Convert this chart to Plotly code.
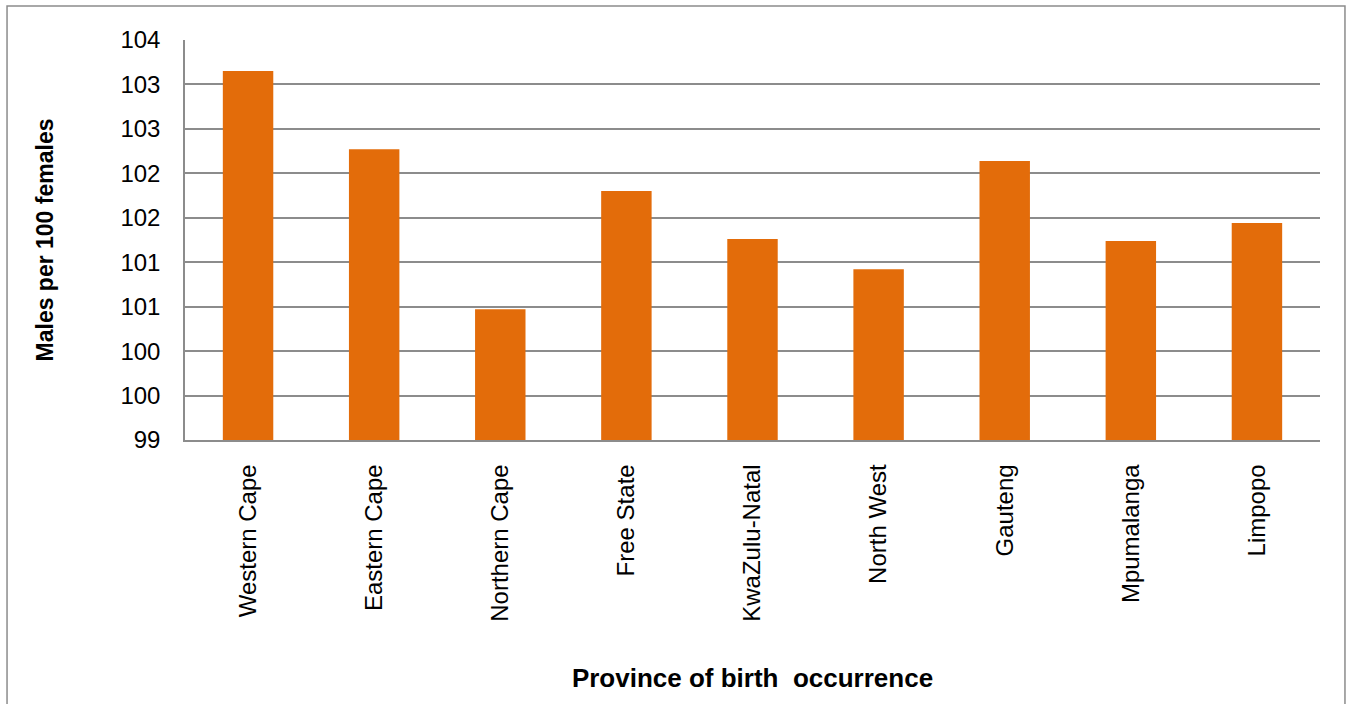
import plotly.graph_objects as go

provinces = ["Western Cape", "Eastern Cape", "Northern Cape", "Free State", "KwaZulu-Natal",
             "North West", "Gauteng", "Mpumalanga", "Limpopo"]
sex_ratio = [103.15, 102.27, 100.47, 101.80, 101.26, 100.92, 102.14, 101.24, 101.44]
y_tick_vals = [99, 99.5, 100, 100.5, 101, 101.5, 102, 102.5, 103, 103.5]
y_tick_text = ["99", "100", "100", "101", "101", "102", "102", "103", "103", "104"]

fig = go.Figure(go.Bar(x=provinces, y=sex_ratio, marker_color="#E36C0A",
                       marker_line_width=0, width=0.4))

font = "Liberation Sans, Arial, sans-serif"
fig.update_layout(
    width=1349, height=704,
    margin=dict(l=185, r=29, t=40, b=264),
    paper_bgcolor="white", plot_bgcolor="white",
    font=dict(family=font, color="black"),
    showlegend=False,
    xaxis=dict(
        tickangle=-90, tickfont=dict(size=24), showgrid=False,
        showline=True, linecolor="#8c8c8c", linewidth=1.5,
        ticks="", ticklabelstandoff=13,
        title=dict(text="<b>Province of birth  occurrence</b>", font=dict(size=26), standoff=48),
    ),
    yaxis=dict(
        range=[99, 103.5], tickvals=y_tick_vals, ticktext=y_tick_text,
        tickfont=dict(size=24), showgrid=True, gridcolor="#8c8c8c", gridwidth=1.5,
        showline=True, linecolor="#8c8c8c", linewidth=1.5, zeroline=False,
        ticks="", ticklabelstandoff=18,
        title=dict(text="<b>Males per 100 females</b>", font=dict(size=23), standoff=60),
    ),
    shapes=[dict(type="rect", xref="paper", yref="paper",
                 x0=-0.1568, x1=1.022, y0=-0.69, y1=1.085,
                 line=dict(color="#8c8c8c", width=1.5), layer="below")],
)

fig.write_html("out.html", config={"displayModeBar": False},
               post_script="document.body.style.margin='0';")
